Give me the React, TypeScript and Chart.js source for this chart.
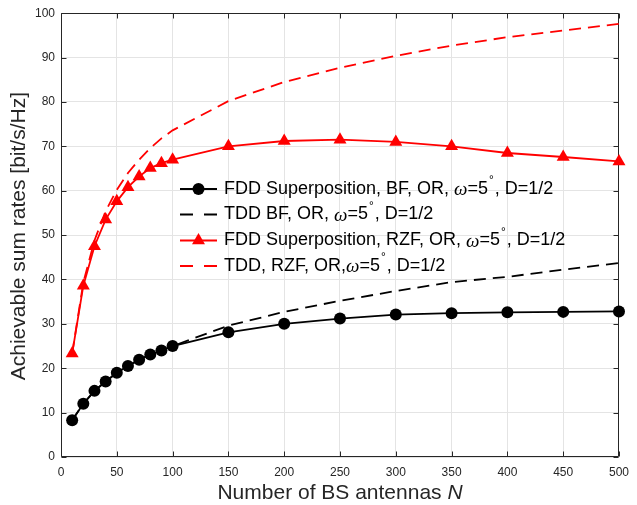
import React, { useEffect, useRef } from "react";
import { Chart, registerables } from "chart.js";
Chart.register(...registerables);

const antennas = [10, 20, 30, 40, 50, 60, 70, 80, 90, 100, 150, 200, 250, 300, 350, 400, 450, 500];
const fddBF = [8.3, 12.0, 14.9, 17.0, 19.0, 20.5, 21.9, 23.1, 24.0, 25.0, 28.1, 30.0, 31.2, 32.1, 32.4, 32.6, 32.7, 32.8];
const tddBF = [8.3, 12.0, 14.9, 17.0, 19.0, 20.5, 21.9, 23.1, 24.0, 25.0, 29.6, 32.7, 35.2, 37.4, 39.4, 40.6, 42.2, 43.7];
const fddRZF = [23.3, 38.6, 47.5, 53.5, 57.6, 60.8, 63.2, 65.1, 66.2, 67.0, 70.0, 71.2, 71.5, 71.0, 70.0, 68.5, 67.6, 66.6];
const tddRZF = [23.3, 39.3, 48.8, 55.4, 60.2, 64.0, 67.0, 69.6, 71.8, 73.6, 80.2, 84.5, 87.7, 90.4, 92.7, 94.6, 96.1, 97.6];

const xMin = 0, xMax = 500, xStep = 50;
const yMin = 0, yMax = 100, yStep = 10;

const xTitle = "Number of BS antennas ";
const xTitleVar = "N";
const yTitle = "Achievable sum rates [bit/s/Hz]";

const legendPrefixes = [
  "FDD Superposition, BF, OR, ",
  "TDD BF, OR, ",
  "FDD Superposition, RZF, OR, ",
  "TDD, RZF, OR,",
];
const legendSuffix = ", D=1/2";

const BLACK = "#000000";
const RED = "#ff0000";
const AXIS = "#262626";
const SANS = "'Liberation Sans', Arial, sans-serif";
const SERIF = "'Liberation Serif', 'DejaVu Serif', serif";

const styles = [
  { color: BLACK, dash: [] as number[], marker: "circle", r: 6 },
  { color: BLACK, dash: [12, 7], marker: null, r: 0 },
  { color: RED, dash: [] as number[], marker: "triangle", r: 7.5 },
  { color: RED, dash: [12, 7], marker: null, r: 0 },
];

function drawMarker(ctx: CanvasRenderingContext2D, kind: string | null, x: number, y: number, r: number, color: string) {
  if (!kind) return;
  ctx.save();
  ctx.fillStyle = color;
  ctx.beginPath();
  if (kind === "circle") {
    ctx.arc(x, y, r, 0, Math.PI * 2);
  } else {
    const h = (Math.PI * 2) / 3;
    let a = 0;
    ctx.moveTo(x + Math.sin(a) * r, y - Math.cos(a) * r);
    a += h;
    ctx.lineTo(x + Math.sin(a) * r, y - Math.cos(a) * r);
    a += h;
    ctx.lineTo(x + Math.sin(a) * r, y - Math.cos(a) * r);
    ctx.closePath();
  }
  ctx.fill();
  ctx.restore();
}

const decorPlugin = {
  id: "decor",
  beforeDatasetsDraw(chart: any) {
    const ctx: CanvasRenderingContext2D = chart.ctx;
    const { left, right, top, bottom } = chart.chartArea;
    const xs = chart.scales.x;
    const ys = chart.scales.y;
    ctx.save();
    ctx.strokeStyle = AXIS;
    ctx.lineWidth = 1;
    ctx.beginPath();
    const L = Math.round(left) + 0.5, R = Math.round(right) - 0.5;
    const T = Math.round(top) + 0.5, B = Math.round(bottom) - 0.5;
    ctx.rect(L, T, R - L, B - T);
    for (let v = xMin; v <= xMax; v += xStep) {
      const px = Math.round(xs.getPixelForValue(v)) + 0.5;
      ctx.moveTo(px, B); ctx.lineTo(px, B - 5);
      ctx.moveTo(px, T); ctx.lineTo(px, T + 5);
    }
    for (let v = yMin; v <= yMax; v += yStep) {
      const py = Math.round(ys.getPixelForValue(v)) + 0.5;
      ctx.moveTo(L, py); ctx.lineTo(L + 5, py);
      ctx.moveTo(R, py); ctx.lineTo(R - 5, py);
    }
    ctx.stroke();

    // axis titles
    ctx.fillStyle = AXIS;
    ctx.textBaseline = "alphabetic";
    const f1 = `21px ${SANS}`;
    const f2 = `italic 21px ${SANS}`;
    ctx.font = f1;
    const w1 = ctx.measureText(xTitle).width;
    ctx.font = f2;
    const w2 = ctx.measureText(xTitleVar).width;
    const cx = (left + right) / 2;
    const sx = cx - (w1 + w2) / 2;
    ctx.font = f1;
    ctx.fillText(xTitle, sx, 499);
    ctx.font = f2;
    ctx.fillText(xTitleVar, sx + w1, 499);

    ctx.save();
    ctx.translate(25, (top + bottom) / 2 + 1);
    ctx.rotate(-Math.PI / 2);
    ctx.font = f1;
    ctx.textAlign = "center";
    ctx.fillText(yTitle, 0, 0);
    ctx.restore();
    ctx.restore();
  },
  afterDraw(chart: any) {
    const ctx: CanvasRenderingContext2D = chart.ctx;
    ctx.save();
    const rowsY = [189, 214.5, 240.5, 266];
    const x0 = 180, x1 = 217, tx = 224;
    legendPrefixes.forEach((p, i) => {
      const st = styles[i];
      const y = rowsY[i];
      ctx.strokeStyle = st.color;
      ctx.lineWidth = 1.8;
      ctx.setLineDash(st.dash.length ? [13, 11] : []);
      ctx.beginPath();
      ctx.moveTo(x0, y);
      ctx.lineTo(x1, y);
      ctx.stroke();
      ctx.setLineDash([]);
      drawMarker(ctx, st.marker, (x0 + x1) / 2, y, st.r, st.color);

      ctx.fillStyle = "#000";
      ctx.textBaseline = "middle";
      let x = tx;
      ctx.font = `18px ${SANS}`;
      ctx.fillText(p, x, y);
      x += ctx.measureText(p).width;
      ctx.font = `italic 19px ${SERIF}`;
      ctx.fillText("\u03c9", x, y + 1);
      x += ctx.measureText("\u03c9").width;
      ctx.font = `18px ${SANS}`;
      ctx.fillText("=5", x, y);
      x += ctx.measureText("=5").width + 1;
      ctx.font = `12px ${SANS}`;
      ctx.fillText("\u00b0", x, y - 8);
      x += ctx.measureText("\u00b0").width + 1;
      ctx.font = `18px ${SANS}`;
      ctx.fillText(legendSuffix, x, y);
    });
    ctx.restore();
  },
};

export default function App() {
  const ref = useRef<HTMLCanvasElement>(null);
  useEffect(() => {
    const canvas = ref.current;
    if (!canvas) return;
    const series = [fddBF, tddBF, fddRZF, tddRZF];
    const chart = new Chart(canvas, {
      type: "line",
      data: {
        datasets: series.map((s, i) => ({
          label: legendPrefixes[i],
          data: antennas.map((n, k) => ({ x: n, y: s[k] })),
          borderColor: styles[i].color,
          backgroundColor: styles[i].color,
          borderWidth: 1.8,
          borderDash: styles[i].dash,
          pointStyle: (styles[i].marker || "circle") as any,
          pointRadius: styles[i].r,
          pointHoverRadius: styles[i].r,
          pointBorderWidth: 0,
          tension: 0,
          fill: false,
          clip: false as any,
          order: 4 - i,
        })),
      },
      options: {
        responsive: false,
        animation: false,
        events: [],
        layout: { padding: { left: 0, top: 11, right: 11, bottom: 0 } },
        plugins: { legend: { display: false }, tooltip: { enabled: false } },
        scales: {
          x: {
            type: "linear",
            min: xMin,
            max: xMax,
            afterFit: (s: any) => { s.height = 48; },
            grid: { color: "#e4e4e4", lineWidth: 1, drawTicks: false },
            border: { display: false },
            ticks: {
              stepSize: xStep,
              padding: 8,
              color: AXIS,
              font: { family: SANS, size: 12 },
              maxRotation: 0,
            },
          },
          y: {
            type: "linear",
            min: yMin,
            max: yMax,
            afterFit: (s: any) => { s.width = 61; },
            grid: { color: "#e4e4e4", lineWidth: 1, drawTicks: false },
            border: { display: false },
            ticks: {
              stepSize: yStep,
              padding: 6,
              color: AXIS,
              font: { family: SANS, size: 12 },
            },
          },
        },
      },
      plugins: [decorPlugin],
    });
    return () => chart.destroy();
  }, []);
  return (
    <div style={{ position: "absolute", left: 0, top: 0, width: 637, height: 505, background: "#fff" }}>
      <canvas ref={ref} width={637} height={505} style={{ display: "block" }} />
    </div>
  );
}
